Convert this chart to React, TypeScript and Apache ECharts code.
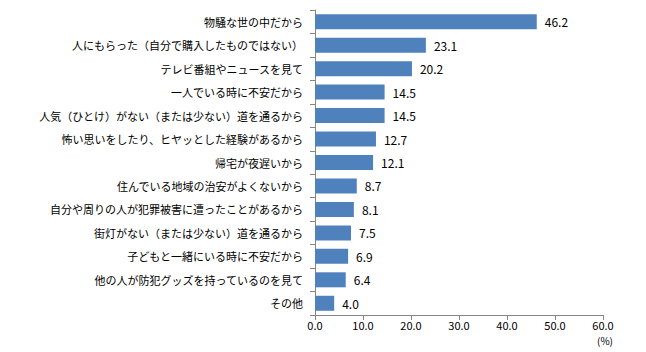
import React, { useEffect, useRef } from "react";
import * as echarts from "echarts";

const categories = [
  "物騒な世の中だから",
  "人にもらった（自分で購入したものではない）",
  "テレビ番組やニュースを見て",
  "一人でいる時に不安だから",
  "人気（ひとけ）がない（または少ない）道を通るから",
  "怖い思いをしたり、ヒヤッとした経験があるから",
  "帰宅が夜遅いから",
  "住んでいる地域の治安がよくないから",
  "自分や周りの人が犯罪被害に遭ったことがあるから",
  "街灯がない（または少ない）道を通るから",
  "子どもと一緒にいる時に不安だから",
  "他の人が防犯グッズを持っているのを見て",
  "その他",
];
const values = [46.2, 23.1, 20.2, 14.5, 14.5, 12.7, 12.1, 8.7, 8.1, 7.5, 6.9, 6.4, 4.0];
const unitLabel = "(%)";

const FONT = "'Noto Sans CJK JP', sans-serif";

export default function App() {
  const ref = useRef<HTMLDivElement>(null);
  useEffect(() => {
    document.body.style.margin = "0";
    if (!ref.current) return;
    const chart = echarts.init(ref.current, undefined, { renderer: "svg" });
    chart.setOption({
      animation: false,
      backgroundColor: "#ffffff",
      textStyle: { fontFamily: FONT },
      grid: { left: 315, right: 43, top: 10, bottom: 37, containLabel: false },
      xAxis: {
        type: "value",
        min: 0,
        max: 60,
        interval: 10,
        axisLine: { show: true, lineStyle: { color: "#868686" } },
        axisTick: { show: true, length: 5, lineStyle: { color: "#868686" } },
        splitLine: { show: false },
        axisLabel: {
          color: "#000",
          fontSize: 11,
          fontFamily: FONT,
          margin: 4,
          formatter: (v: number) => v.toFixed(1),
        },
      },
      yAxis: {
        type: "category",
        data: categories,
        inverse: true,
        axisLine: { show: true, lineStyle: { color: "#868686" } },
        axisTick: { show: true, length: 5, lineStyle: { color: "#868686" } },
        axisLabel: { color: "#000", fontSize: 11, fontFamily: FONT, margin: 12 },
      },
      series: [
        {
          type: "bar",
          data: values,
          barCategoryGap: "36%",
          itemStyle: { color: "#4F81BD" },
          label: {
            show: true,
            position: "right",
            distance: 8,
            color: "#000",
            fontSize: 12,
            fontFamily: FONT,
            formatter: (p: any) => Number(p.value).toFixed(1),
          },
        },
      ],
      graphic: [
        {
          type: "text",
          left: 597,
          top: 335,
          style: { text: unitLabel, fill: "#000", fontSize: 10, fontFamily: FONT },
        },
      ],
    });
    return () => chart.dispose();
  }, []);
  return <div ref={ref} style={{ width: 646, height: 352 }} />;
}
